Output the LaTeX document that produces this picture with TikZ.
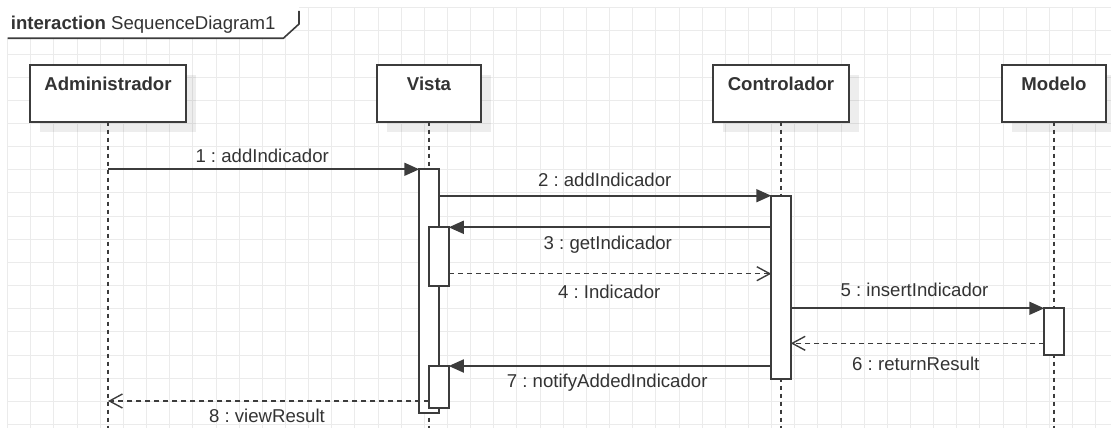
\documentclass[tikz,border=0pt]{standalone}
\usepackage{fontspec}
\setmainfont{Liberation Sans}
\usetikzlibrary{arrows.meta,shadows}
\definecolor{ink}{HTML}{333333}
\definecolor{edge}{HTML}{3C3C3C}
\definecolor{gridc}{HTML}{EBEBEB}
\frenchspacing

\begin{document}
\begin{tikzpicture}[x=1pt,y=-1pt,
  font=\fontsize{18.6}{22}\selectfont, text=ink,
  gridline/.style={draw=gridc, line width=0.9pt},
  actor/.style={draw=edge, fill=white, line width=1.9pt, minimum height=56.7pt,
    inner sep=0pt, outer sep=0pt,
    drop shadow={shadow xshift=10pt, shadow yshift=-10pt, fill=black, opacity=0.07}},
  actorname/.style={font=\fontsize{18.6}{22}\selectfont\bfseries, anchor=base},
  lifeline/.style={draw=edge, line width=1.6pt, dash pattern=on 4.5pt off 3.5pt},
  act/.style={draw=edge, fill=white, line width=1.7pt, minimum width=19.5pt,
    inner sep=0pt, outer sep=0pt},
  call/.style={draw=edge, line width=1.8pt, -{Triangle[length=15pt,width=13pt]}},
  reply/.style={draw=edge, line width=1.5pt, dash pattern=on 5pt off 4pt,
    -{Straight Barb[length=13pt,width=14pt,line width=1.4pt]}},
  msglabel/.style={anchor=base, inner sep=0pt},
]
\useasboundingbox (0,0) rectangle (1111,428);

% background grid
\foreach \i in {0,...,47}
  \draw[gridline] ({7.6+23.15*\i},7.7) -- ({7.6+23.15*\i},428);
\foreach \j in {0,...,18}
  \draw[gridline] (7.6,{7.7+23.15*\j}) -- (1111,{7.7+23.15*\j});

% frame name tab
\fill[white] (0,0) -- (299,0) -- (299,24) -- (283.3,38.3) -- (0,38.3) -- cycle;
\draw[edge, line width=1.6pt] (7.6,38.3) -- (283.3,38.3) -- (299,24) -- (299,11);
\node[anchor=base west, inner sep=0pt] (frame) at (10.7,30)
  {\textbf{interaction} SequenceDiagram1};

% participants
\node[actor, minimum width=156pt]   (adm) at (108,93.35) {};
\node[actor, minimum width=104.3pt] (vis) at (429,93.35) {};
\node[actor, minimum width=136.3pt] (ctl) at (781,93.35) {};
\node[actor, minimum width=103.7pt] (mod) at (1054,93.35) {};
\node[actorname] (admT) at (adm.north |- 0,90) {Administrador};
\node[actorname] (visT) at (vis.north |- 0,90) {Vista};
\node[actorname] (ctlT) at (ctl.north |- 0,90) {Controlador};
\node[actorname] (modT) at (mod.north |- 0,90) {Modelo};

% lifelines
\coordinate (admEnd) at (108,428);
\coordinate (visEnd) at (429,428);
\coordinate (ctlEnd) at (781,428);
\coordinate (modEnd) at (1054,428);
\draw[lifeline] (adm.south) -- (admEnd);
\draw[lifeline] (vis.south) -- (visEnd);
\draw[lifeline] (ctl.south) -- (ctlEnd);
\draw[lifeline] (mod.south) -- (modEnd);

% activations
\node[act, minimum height=244pt]  (vA) at (429,291.3) {};
\node[act, minimum height=58.4pt] (vB) at (439,256.5) {};
\node[act, minimum height=41.7pt] (vC) at (439,386.85) {};
\node[act, minimum height=183pt]  (cA) at (781,287.2) {};
\node[act, minimum height=46.7pt] (mA) at (1054,331.65) {};

% message rows
\coordinate (y4) at (0,273.7);
\coordinate (y6) at (0,343.3);
\coordinate (y8) at (0,401);

% messages
\draw[call]  (adm.south |- vA.north) -- (vA.north west);
\draw[call]  (vA.east |- cA.north) -- (cA.north west);
\draw[call]  (cA.west |- vB.north) -- (vB.north east);
\draw[reply] (vB.east |- y4) -- (cA.west |- y4);
\draw[call]  (cA.east |- mA.north) -- (mA.north west);
\draw[reply] (mA.west |- y6) -- (cA.east |- y6);
\draw[call]  (cA.west |- vC.north) -- (vC.north east);
\draw[reply] (vC.west |- y8) -- (adm.south |- y8);

% message labels
\node[msglabel] (m1) at (262.2,162.3) {1 : addIndicador};
\node[msglabel] (m2) at (604.7,186.7) {2 : addIndicador};
\node[msglabel] (m3) at (607.8,249)   {3 : getIndicador};
\node[msglabel] (m4) at (609.2,298.3) {4 : Indicador};
\node[msglabel] (m5) at (914.5,296)   {5 : insertIndicador};
\node[msglabel] (m6) at (915.8,370)   {6 : returnResult};
\node[msglabel] (m7) at (607.2,387.3) {7 : notifyAddedIndicador};
\node[msglabel] (m8) at (267,422.3)   {8 : viewResult};
\end{tikzpicture}
\end{document}
